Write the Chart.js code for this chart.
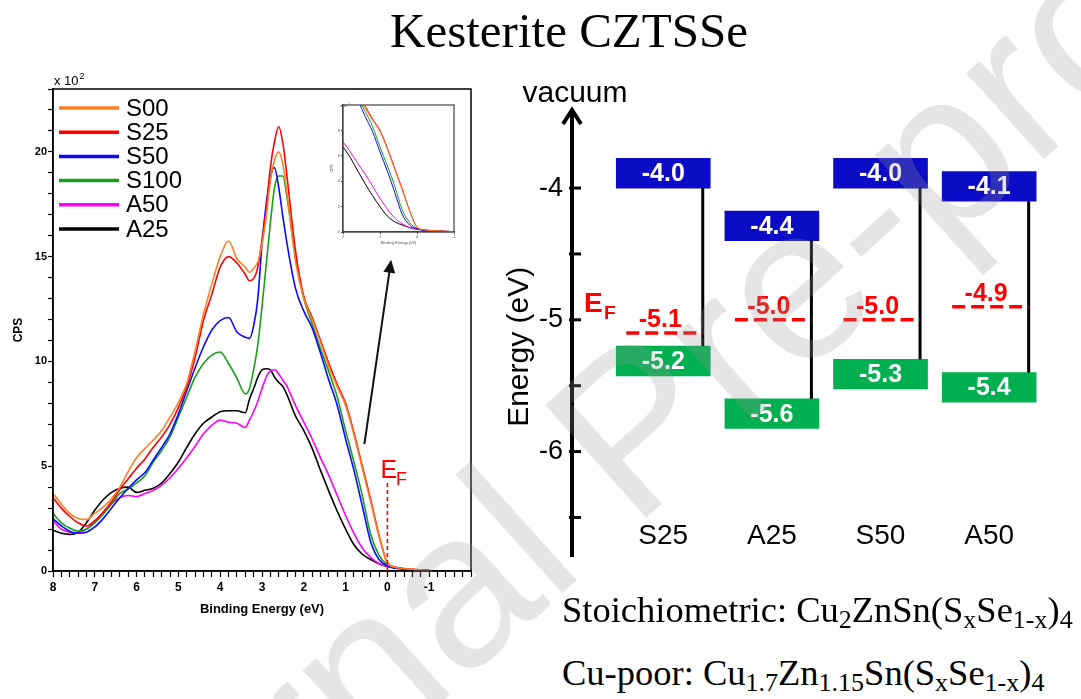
<!DOCTYPE html>
<html>
<head>
<meta charset="utf-8">
<title>Kesterite CZTSSe</title>
<script src="https://cdn.jsdelivr.net/npm/chart.js@4.4.1/dist/chart.umd.min.js"></script>
<style>
  html, body { margin: 0; padding: 0; background: #fff; }
  body { width: 1081px; height: 699px; position: relative; overflow: hidden; font-family: "Liberation Sans", Arial, sans-serif; }
  #title { position: absolute; left: 569px; top: 6px; transform: translateX(-50%); font: 49px/49px "Liberation Serif", "Times New Roman", serif; white-space: nowrap; }
  .formula { position: absolute; left: 562px; font: 36.5px/40px "Liberation Serif", "Times New Roman", serif; white-space: nowrap; }
  .formula sub { font-size: 26px; vertical-align: -6px; line-height: 0; }
  canvas { position: absolute; }
  #spectrum { left: 0; top: 0; }
  #inset { left: 325px; top: 95px; }
  #levels { left: 480px; top: 60px; }
  #watermark { position: absolute; left: 632px; top: 428px; transform: translate(-50%, -50%) rotate(-42deg);
    font: 220px/220px "Liberation Sans", Arial, sans-serif; color: rgba(150, 150, 150, 0.25); white-space: nowrap; pointer-events: none; }
</style>
</head>
<body>
<div id="title">Kesterite CZTSSe</div>
<canvas id="spectrum" width="490" height="625"></canvas>
<canvas id="inset" width="135" height="150"></canvas>
<canvas id="levels" width="601" height="540"></canvas>
<div class="formula" style="top: 590px;">Stoichiometric: Cu<sub>2</sub>ZnSn(S<sub>x</sub>Se<sub>1-x</sub>)<sub>4</sub></div>
<div class="formula" style="top: 653px;">Cu-poor: Cu<sub>1.7</sub>Zn<sub>1.15</sub>Sn(S<sub>x</sub>Se<sub>1-x</sub>)<sub>4</sub></div>
<div id="watermark">Journal Pre-proof</div>
<script>
const SANS = '"Liberation Sans", Arial, sans-serif';

// valence band spectra: binding energy (eV) and counts (x 10^2 CPS)
const energy = [8, 7.8, 7.6, 7.4, 7.2, 7, 6.8, 6.6, 6.4, 6.2, 6, 5.8, 5.6, 5.4, 5.2, 5, 4.8, 4.6, 4.4, 4.2, 4,
  3.8, 3.6, 3.4, 3.3, 3.2, 3.1, 3, 2.9, 2.8, 2.7, 2.6, 2.5, 2.4,
  2.2, 2, 1.8, 1.6, 1.4, 1.2, 1, 0.8, 0.6, 0.4, 0.2, 0, -0.2, -0.4, -0.6, -0.8, -1];
const s00 = [3.7, 3.2, 2.75, 2.5, 2.45, 2.75, 3.05, 3.45, 4.0, 4.75, 5.4, 5.85, 6.25, 6.7, 7.35, 8.05, 8.95, 10.5, 12.25, 13.7, 15.0,
  15.75, 14.9, 14.5, 14.25, 14.45, 14.75, 15.6, 16.9, 18.6, 19.6, 20.0, 19.4, 18.0,
  14.8, 13.0, 12.0, 10.9, 9.75, 8.8, 7.9, 6.5, 4.9, 3.3, 1.65, 0.38, 0.17, 0.11, 0.08, 0.05, 0.03];
const s25 = [3.5, 3.0, 2.6, 2.3, 2.15, 2.4, 2.8, 3.3, 3.9, 4.4, 4.9, 5.35, 5.9, 6.4, 7.0, 7.8, 8.8, 10.2, 11.95, 13.2, 14.5,
  15.0, 14.7, 14.15, 13.85, 13.95, 14.5, 15.8, 17.2, 19.25, 20.5, 21.2, 20.4, 18.8,
  15.3, 13.1, 12.1, 11.0, 9.9, 8.9, 8.0, 6.6, 5.0, 3.4, 1.7, 0.4, 0.18, 0.12, 0.08, 0.05, 0.03];
const s50 = [2.5, 2.15, 1.9, 1.8, 1.85, 2.1, 2.5, 3.0, 3.5, 3.95, 4.35, 4.7, 5.3, 5.9, 6.55, 7.5, 8.6, 9.7, 10.7, 11.5, 11.95,
  12.1, 11.4, 11.15, 11.1, 11.7, 13.0, 15.6, 17.5, 18.8, 19.25, 18.3, 16.9, 15.6,
  13.5, 12.4, 11.6, 10.4, 9.1, 7.9, 6.3, 4.8, 3.1, 1.4, 0.55, 0.25, 0.13, 0.09, 0.06, 0.04, 0.03];
const s100 = [2.75, 2.3, 2.05, 1.9, 2.0, 2.3, 2.7, 3.2, 3.7, 3.9, 4.2, 4.55, 5.2, 5.75, 6.4, 7.35, 8.3, 9.25, 9.9, 10.3, 10.45,
  9.9, 9.2, 8.45, 8.7, 9.6, 10.8, 12.6, 14.6, 16.6, 18.3, 18.85, 18.85, 17.8,
  15.0, 13.0, 11.8, 10.6, 9.5, 8.3, 6.7, 5.2, 3.6, 1.75, 0.75, 0.3, 0.14, 0.09, 0.06, 0.04, 0.03];
const a50 = [2.4, 2.0, 1.85, 1.8, 2.0, 2.35, 2.8, 3.2, 3.5, 3.6, 3.55, 3.7, 3.85, 4.1, 4.45, 4.9, 5.4, 5.95, 6.55, 6.95, 7.2,
  7.1, 7.05, 6.85, 7.2, 7.6, 8.1, 8.7, 9.25, 9.55, 9.6, 9.4, 9.1, 8.8,
  7.9, 7.1, 6.3, 5.4, 4.55, 3.6, 2.65, 1.8, 1.1, 0.65, 0.35, 0.22, 0.15, 0.1, 0.07, 0.05, 0.03];
const a25 = [1.95, 1.8, 1.75, 1.85, 2.3, 2.9, 3.4, 3.75, 3.95, 4.0, 3.75, 3.85, 3.95, 4.2, 4.65, 5.2, 5.9, 6.55, 7.05, 7.35, 7.6,
  7.65, 7.65, 7.55, 8.2, 8.7, 9.25, 9.6, 9.65, 9.6, 9.25, 9.0, 8.8, 8.4,
  7.4, 6.7, 5.85, 4.8, 3.8, 2.85, 2.0, 1.25, 0.8, 0.55, 0.35, 0.22, 0.14, 0.1, 0.07, 0.05, 0.03];

const seriesNames = ['S00', 'S25', 'S50', 'S100', 'A50', 'A25'];
const seriesValues = [s00, s25, s50, s100, a50, a25];
const seriesColors = ['#ff7f27', '#ff0000', '#0a0aff', '#18a018', '#ff00ff', '#000000'];

// arrow pointing to the inset (binding energy, counts)
const arrowFrom = [0.55, 6.05];
const arrowTo = [-0.09, 14.85];

// band positions (eV)
const samples = ['S25', 'A25', 'S50', 'A50'];
const cbm = [-4.0, -4.4, -4.0, -4.1];
const vbm = [-5.2, -5.6, -5.3, -5.4];
const fermi = [-5.1, -5.0, -5.0, -4.9];
const energyTicks = [-4, -5, -6];
const energyMinorTicks = [-4.5, -5.5, -6.5];

function makeSets(width) {
  return seriesNames.map((name, k) => ({
    label: name,
    data: energy.map((e, i) => ({ x: e, y: seriesValues[k][i] })),
    borderColor: seriesColors[k],
    borderWidth: width,
    pointRadius: 0,
    cubicInterpolationMode: 'monotone',
    fill: false
  }));
}

// box round the plot area
function framePlugin(width, color) {
  return {
    id: 'frame',
    afterDraw(chart) {
      const { ctx, chartArea: a } = chart;
      ctx.save();
      ctx.strokeStyle = color;
      ctx.lineWidth = width;
      ctx.strokeRect(a.left, a.top, a.right - a.left, a.bottom - a.top);
      ctx.restore();
    }
  };
}

function drawPower(ctx, x, y, size) {
  ctx.font = size + 'px ' + SANS;
  ctx.textAlign = 'left';
  ctx.textBaseline = 'alphabetic';
  ctx.fillText('x 10', x, y);
  const w = ctx.measureText('x 10').width;
  ctx.font = Math.round(size * 0.7) + 'px ' + SANS;
  ctx.fillText('2', x + w + 1, y - size * 0.45);
}

const sampleLegend = {
  id: 'sampleLegend',
  afterDatasetsDraw(chart) {
    const { ctx, chartArea: a } = chart;
    ctx.save();
    ctx.font = '24px ' + SANS;
    ctx.textBaseline = 'middle';
    ctx.textAlign = 'left';
    chart.data.datasets.forEach((ds, i) => {
      const y = a.top + 19 + i * 24.2;
      ctx.strokeStyle = ds.borderColor;
      ctx.lineWidth = 3.5;
      ctx.beginPath();
      ctx.moveTo(a.left + 6, y);
      ctx.lineTo(a.left + 66, y);
      ctx.stroke();
      ctx.fillStyle = '#000';
      ctx.fillText(ds.label, a.left + 73, y + 1);
    });
    ctx.restore();
  }
};

const fermiEdge = {
  id: 'fermiEdge',
  afterDraw(chart) {
    const { ctx, scales: { x, y }, chartArea: a } = chart;
    ctx.save();
    drawPower(ctx, a.left + 1, a.top - 4, 13);
    const x0 = x.getPixelForValue(0);
    const yTop = y.getPixelForValue(4.2);
    ctx.strokeStyle = '#ff0000';
    ctx.lineWidth = 1.6;
    ctx.setLineDash([4, 3]);
    ctx.beginPath();
    ctx.moveTo(x0, y.getPixelForValue(0));
    ctx.lineTo(x0, yTop);
    ctx.stroke();
    ctx.setLineDash([]);
    ctx.fillStyle = '#ff0000';
    ctx.textAlign = 'left';
    ctx.textBaseline = 'alphabetic';
    ctx.font = '25px ' + SANS;
    ctx.fillText('E', x0 - 7, yTop - 5);
    ctx.font = '18px ' + SANS;
    ctx.fillText('F', x0 + 8.5, yTop + 2);

    const x1 = x.getPixelForValue(arrowFrom[0]), y1 = y.getPixelForValue(arrowFrom[1]);
    const x2 = x.getPixelForValue(arrowTo[0]), y2 = y.getPixelForValue(arrowTo[1]);
    const ang = Math.atan2(y2 - y1, x2 - x1);
    ctx.strokeStyle = '#111';
    ctx.fillStyle = '#111';
    ctx.lineWidth = 2;
    ctx.beginPath();
    ctx.moveTo(x1, y1);
    ctx.lineTo(x2 - 10 * Math.cos(ang), y2 - 10 * Math.sin(ang));
    ctx.stroke();
    ctx.beginPath();
    ctx.moveTo(x2, y2);
    ctx.lineTo(x2 - 13 * Math.cos(ang) + 6 * Math.sin(ang), y2 - 13 * Math.sin(ang) - 6 * Math.cos(ang));
    ctx.lineTo(x2 - 13 * Math.cos(ang) - 6 * Math.sin(ang), y2 - 13 * Math.sin(ang) + 6 * Math.cos(ang));
    ctx.closePath();
    ctx.fill();
    ctx.restore();
  }
};

function wholeLabel(v, lo, step) {
  const r = Math.round(v);
  return (Math.abs(v - r) < 1e-6 && r >= lo && r % step === 0) ? String(r) : '';
}

// main valence band spectrum
new Chart(document.getElementById('spectrum'), {
  type: 'line',
  data: { datasets: makeSets(1.6) },
  options: {
    responsive: false,
    animation: false,
    layout: { padding: { top: 89, right: 19, left: 0, bottom: 0 } },
    plugins: { legend: { display: false }, tooltip: { enabled: false } },
    scales: {
      x: {
        type: 'linear', reverse: true, min: -2, max: 8,
        afterFit(scale) { scale.height = 54; },
        grid: { drawOnChartArea: false, tickLength: 6, color: '#000', tickWidth: 1.2 },
        border: { display: true, color: '#000', width: 1.5 },
        ticks: {
          stepSize: 0.2, autoSkip: false, maxRotation: 0, padding: 3, color: '#000',
          font: { family: SANS, size: 12, weight: 'bold' },
          callback: v => wholeLabel(v, -1, 1)
        },
        title: {
          display: true, text: 'Binding Energy (eV)', color: '#000',
          font: { family: SANS, size: 13, weight: 'bold' }, padding: { top: 0, bottom: 8 }
        }
      },
      y: {
        min: 0, max: 23,
        afterFit(scale) { scale.width = 53; },
        grid: { drawOnChartArea: false, tickLength: 5, color: '#000', tickWidth: 1.2 },
        border: { display: true, color: '#000', width: 1.5 },
        ticks: {
          stepSize: 1, autoSkip: false, padding: 1, color: '#000',
          font: { family: SANS, size: 11, weight: 'bold' },
          callback: v => wholeLabel(v, 0, 5)
        },
        title: {
          display: true, text: 'CPS', color: '#000',
          font: { family: SANS, size: 12, weight: 'bold' }, padding: { top: 11, bottom: 0 }
        }
      }
    }
  },
  plugins: [framePlugin(1.5, '#000'), sampleLegend, fermiEdge]
});

// inset: the same spectra near the valence band edge
new Chart(document.getElementById('inset'), {
  type: 'line',
  data: { datasets: makeSets(1) },
  options: {
    responsive: false,
    animation: false,
    layout: { padding: { top: 10, right: 6, left: 0, bottom: 0 } },
    plugins: { legend: { display: false }, tooltip: { enabled: false } },
    scales: {
      x: {
        type: 'linear', reverse: true, min: -1, max: 2,
        afterFit(scale) { scale.height = 13; },
        grid: { drawOnChartArea: false, tickLength: 2, color: '#444' },
        border: { display: true, color: '#444', width: 1.2 },
        ticks: { stepSize: 1, padding: 0, color: '#555', font: { family: SANS, size: 4 } },
        title: { display: true, text: 'Binding Energy (eV)', color: '#555', font: { family: SANS, size: 4 }, padding: 0 }
      },
      y: {
        min: 0, max: 10,
        afterFit(scale) { scale.width = 18; },
        grid: { drawOnChartArea: false, tickLength: 2, color: '#444' },
        border: { display: true, color: '#444', width: 1.2 },
        ticks: { stepSize: 2, padding: 1, color: '#555', font: { family: SANS, size: 4 },
          callback: v => (v < 10 ? String(v) : '') },
        title: { display: true, text: 'CPS', color: '#555', font: { family: SANS, size: 4 }, padding: { top: 4, bottom: 0 } }
      }
    }
  },
  plugins: [framePlugin(1.2, '#444'), {
    id: 'insetPower',
    afterDraw(chart) {
      const { ctx, chartArea: a } = chart;
      ctx.save();
      ctx.fillStyle = '#555';
      drawPower(ctx, a.left - 3, a.top + 2, 4);
      ctx.restore();
    }
  }]
});

// energy level diagram
const BOX = 0.225;
const BOX_W = 94;

const levelDecor = {
  id: 'levelDecor',
  afterDraw(chart) {
    const { ctx, chartArea: a, scales: { y } } = chart;
    const ax = a.left;
    ctx.save();

    // energy axis with arrow
    ctx.strokeStyle = '#000';
    ctx.lineWidth = 4;
    ctx.lineCap = 'butt';
    ctx.beginPath();
    ctx.moveTo(ax, a.bottom);
    ctx.lineTo(ax, a.top + 2);
    ctx.stroke();
    ctx.lineJoin = 'miter';
    ctx.beginPath();
    ctx.moveTo(ax - 9, a.top + 15);
    ctx.lineTo(ax, a.top + 1);
    ctx.lineTo(ax + 9, a.top + 15);
    ctx.stroke();
    ctx.lineWidth = 3;
    energyTicks.concat(energyMinorTicks).forEach(v => {
      const ty = y.getPixelForValue(v);
      ctx.beginPath();
      ctx.moveTo(ax - 3, ty);
      ctx.lineTo(ax + 9, ty);
      ctx.stroke();
    });
    ctx.fillStyle = '#000';
    ctx.font = '27px ' + SANS;
    ctx.textAlign = 'right';
    ctx.textBaseline = 'middle';
    energyTicks.forEach(v => ctx.fillText(String(v), ax - 9, y.getPixelForValue(v)));

    ctx.textAlign = 'center';
    ctx.textBaseline = 'alphabetic';
    ctx.font = '30px ' + SANS;
    ctx.fillText('vacuum', ax + 3, a.top - 7);
    ctx.save();
    ctx.translate(ax - 44, (y.getPixelForValue(-4) + y.getPixelForValue(-6)) / 2 + 27);
    ctx.rotate(-Math.PI / 2);
    ctx.fillText('Energy (eV)', 0, 0);
    ctx.restore();

    ctx.fillStyle = '#ff0000';
    ctx.textAlign = 'left';
    ctx.font = 'bold 28px ' + SANS;
    ctx.fillText('E', ax + 12, y.getPixelForValue(-4.9) + 5);
    ctx.font = 'bold 19px ' + SANS;
    ctx.fillText('F', ax + 32, y.getPixelForValue(-4.9) + 12);

    const cbBars = chart.getDatasetMeta(0).data;
    const vbBars = chart.getDatasetMeta(1).data;
    samples.forEach((name, i) => {
      const bx = cbBars[i].x;
      const lineX = bx + BOX_W / 2 - 7.5;
      // gap between the bands
      ctx.strokeStyle = '#000';
      ctx.lineWidth = 3;
      ctx.setLineDash([]);
      ctx.beginPath();
      ctx.moveTo(lineX, y.getPixelForValue(cbm[i]));
      ctx.lineTo(lineX, y.getPixelForValue(vbm[i]));
      ctx.stroke();
      // Fermi level
      const fy = y.getPixelForValue(fermi[i]);
      ctx.strokeStyle = '#ff0000';
      ctx.lineWidth = 3.5;
      ctx.setLineDash([13, 6]);
      ctx.beginPath();
      ctx.moveTo(bx - BOX_W / 2 + 10, fy);
      ctx.lineTo(lineX, fy);
      ctx.stroke();
      ctx.setLineDash([]);
      ctx.fillStyle = '#ff0000';
      ctx.font = 'bold 25px ' + SANS;
      ctx.textAlign = 'center';
      ctx.textBaseline = 'middle';
      ctx.fillText(fermi[i].toFixed(1), bx - 3, fy - 13);
      // band values in the boxes
      ctx.fillStyle = '#fff';
      ctx.fillText(cbm[i].toFixed(1), bx, (cbBars[i].y + cbBars[i].base) / 2 + 1);
      ctx.fillText(vbm[i].toFixed(1), bx, (vbBars[i].y + vbBars[i].base) / 2 + 1);
      // sample name
      ctx.fillStyle = '#000';
      ctx.font = '28px ' + SANS;
      ctx.textBaseline = 'alphabetic';
      ctx.fillText(name, bx, a.bottom - 13);
    });
    ctx.restore();
  }
};

new Chart(document.getElementById('levels'), {
  type: 'bar',
  data: {
    datasets: [
      {
        label: 'CBM',
        data: samples.map((s, i) => ({ x: i + 1, y: [cbm[i], cbm[i] + BOX] })),
        backgroundColor: '#0c0cc6',
        barThickness: BOX_W,
        grouped: false
      },
      {
        label: 'VBM',
        data: samples.map((s, i) => ({ x: i + 1, y: [vbm[i] - BOX, vbm[i]] })),
        backgroundColor: '#00b050',
        barThickness: BOX_W,
        grouped: false
      }
    ]
  },
  options: {
    responsive: false,
    animation: false,
    layout: { padding: { top: 49, right: 31, left: 92, bottom: 43 } },
    plugins: { legend: { display: false }, tooltip: { enabled: false } },
    scales: {
      x: { type: 'linear', min: 0.16, max: 4.56, offset: false, display: false },
      y: { min: -6.8, max: -3.4, display: false }
    }
  },
  plugins: [levelDecor]
});
</script>
</body>
</html>
